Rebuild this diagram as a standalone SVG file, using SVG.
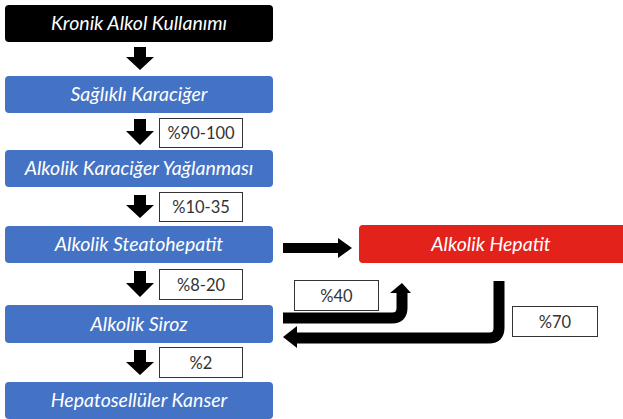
<svg xmlns="http://www.w3.org/2000/svg" width="623" height="419" viewBox="0 0 623 419">
<style>
.box{stroke:none}
.blue{fill:#4472C4}
.t{font-family:Lato,"Open Sans","Liberation Sans",sans-serif;font-style:italic;font-size:19.5px;fill:#ffffff;text-anchor:middle}
.lbl{fill:#ffffff;stroke:#333333;stroke-width:1}
.lt{font-family:Lato,"Open Sans","Liberation Sans",sans-serif;font-size:16.5px;fill:#333333;text-anchor:middle}
.arr{fill:#000000}
.pipe{fill:none;stroke:#000000;stroke-width:11}
</style>
<g id="n-kronik"><rect class="box" x="5" y="5" width="268" height="37" rx="4" fill="#000000"/><text class="t" x="139" y="30">Kronik Alkol Kullanımı</text></g>
<g id="n-saglikli"><rect class="box blue" x="5" y="76" width="268" height="37" rx="4"/><text class="t" x="139" y="101">Sağlıklı Karaciğer</text></g>
<g id="n-yaglanma"><rect class="box blue" x="5" y="150" width="268" height="37" rx="4"/><text class="t" x="139" y="175">Alkolik Karaciğer Yağlanması</text></g>
<g id="n-steato"><rect class="box blue" x="5" y="226" width="268" height="37" rx="4"/><text class="t" x="139" y="251">Alkolik Steatohepatit</text></g>
<g id="n-siroz"><rect class="box blue" x="5" y="305" width="268" height="38" rx="4"/><text class="t" x="139" y="330.5">Alkolik Siroz</text></g>
<g id="n-kanser"><rect class="box blue" x="5" y="382" width="268" height="37" rx="4"/><text class="t" x="139" y="407">Hepatosellüler Kanser</text></g>
<g id="n-hepatit"><rect class="box" x="359" y="225" width="270" height="38" rx="4" fill="#E3221B"/><text class="t" x="491" y="250.5">Alkolik Hepatit</text></g>
<g id="labels">
<g id="l1"><rect class="lbl" x="159.5" y="118.5" width="83" height="29"/><text class="lt" x="201" y="139">%90-100</text></g>
<g id="l2"><rect class="lbl" x="159.5" y="192.5" width="83" height="29"/><text class="lt" x="201" y="213">%10-35</text></g>
<g id="l3"><rect class="lbl" x="159.5" y="269.5" width="83" height="30"/><text class="lt" x="201" y="290.5">%8-20</text></g>
<g id="l4"><rect class="lbl" x="159.5" y="347.5" width="83" height="30"/><text class="lt" x="201" y="368.5">%2</text></g>
<g id="l5"><rect class="lbl" x="294.5" y="280.5" width="84" height="30"/><text class="lt" x="336.5" y="301.5">%40</text></g>
<g id="l6"><rect class="lbl" x="512.5" y="306.5" width="85" height="30"/><text class="lt" x="555" y="327.5">%70</text></g>
</g>
<g id="connectors">
<polygon class="arr" points="134,47 146,47 146,57 154,57 140,70 126,57 134,57"/>
<polygon class="arr" points="134,119 146,119 146,131 154,131 140,145 126,131 134,131"/>
<polygon class="arr" points="134,195 146,195 146,205 154,205 140,218 126,205 134,205"/>
<polygon class="arr" points="134,271 146,271 146,283 154,283 140,297 126,283 134,283"/>
<polygon class="arr" points="134,350 146,350 146,362 154,362 140,375 126,362 134,362"/>
<polygon class="arr" points="283,243 338,243 338,238 352,248 338,258 338,253 283,253"/>
<path class="pipe" d="M283,318 H392 Q402,318 402,308 V292"/>
<polygon class="arr" points="390,293 402,283 411,293"/>
<path class="pipe" d="M499,281 V328 Q499,338 489,338 H296"/>
<polygon class="arr" points="297,326 283,337 297,348"/>
</g>
</svg>
